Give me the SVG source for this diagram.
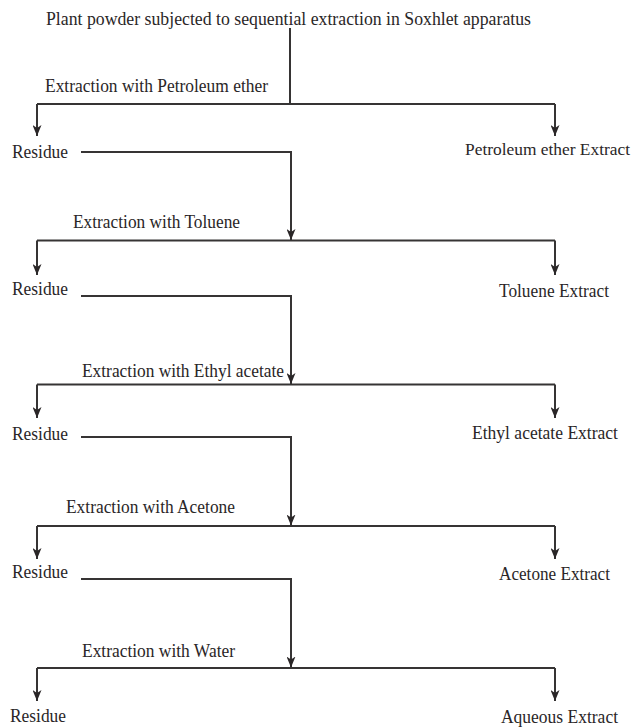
<svg xmlns="http://www.w3.org/2000/svg" width="635" height="727" viewBox="0 0 635 727">
  <style>
    .t { font-family: "Liberation Serif", "Times New Roman", serif; font-size: 18px; fill: #2a2627; }
    .c { fill: none; stroke: #363434; stroke-width: 2; }
  </style>
  <defs>
    <marker id="ah" viewBox="0 0 11 9" refX="11" refY="4.5" markerWidth="11" markerHeight="9" markerUnits="userSpaceOnUse" orient="auto">
      <path d="M0,0 L11,4.5 L0,9 L3,4.5 z" fill="#2a2627"/>
    </marker>
  </defs>
  <rect width="635" height="727" fill="#ffffff"/>

  <g id="connectors">
    <!-- stage 1 -->
    <path class="c" d="M290,28 V104"/>
    <path class="c" d="M37,104 H555"/>
    <path class="c" d="M37,104 V136" marker-end="url(#ah)"/>
    <path class="c" d="M555,104 V136" marker-end="url(#ah)"/>
    <!-- stage 2 -->
    <path class="c" d="M81,152 H291 V240" marker-end="url(#ah)"/>
    <path class="c" d="M37,240.5 H555"/>
    <path class="c" d="M37,240.5 V275" marker-end="url(#ah)"/>
    <path class="c" d="M555,240.5 V275" marker-end="url(#ah)"/>
    <!-- stage 3 -->
    <path class="c" d="M81,296 H291 V384" marker-end="url(#ah)"/>
    <path class="c" d="M37,384.5 H555"/>
    <path class="c" d="M37,384.5 V418" marker-end="url(#ah)"/>
    <path class="c" d="M555,384.5 V418" marker-end="url(#ah)"/>
    <!-- stage 4 -->
    <path class="c" d="M81,437 H291 V525.5" marker-end="url(#ah)"/>
    <path class="c" d="M37,526 H555"/>
    <path class="c" d="M37,526 V559" marker-end="url(#ah)"/>
    <path class="c" d="M555,526 V559" marker-end="url(#ah)"/>
    <!-- stage 5 -->
    <path class="c" d="M81,579 H291 V667.5" marker-end="url(#ah)"/>
    <path class="c" d="M37,668 H555"/>
    <path class="c" d="M37,668 V701" marker-end="url(#ah)"/>
    <path class="c" d="M555,668 V701" marker-end="url(#ah)"/>
  </g>

  <g id="start"><text class="t" x="46" y="25" textLength="485" lengthAdjust="spacingAndGlyphs">Plant powder subjected to sequential extraction in Soxhlet apparatus</text></g>

  <g id="step1-label"><text class="t" x="45" y="92" textLength="223" lengthAdjust="spacingAndGlyphs">Extraction with Petroleum ether</text></g>
  <g id="residue1"><text class="t" x="12" y="157.5" textLength="56" lengthAdjust="spacingAndGlyphs">Residue</text></g>
  <g id="extract1"><text class="t" x="465" y="155" style="font-size:17px" textLength="165" lengthAdjust="spacingAndGlyphs">Petroleum ether Extract</text></g>

  <g id="step2-label"><text class="t" x="73" y="228" textLength="167" lengthAdjust="spacingAndGlyphs">Extraction with Toluene</text></g>
  <g id="residue2"><text class="t" x="12" y="295" textLength="56" lengthAdjust="spacingAndGlyphs">Residue</text></g>
  <g id="extract2"><text class="t" x="499" y="296.5" textLength="110" lengthAdjust="spacingAndGlyphs">Toluene Extract</text></g>

  <g id="step3-label"><text class="t" x="82" y="377" textLength="202" lengthAdjust="spacingAndGlyphs">Extraction with Ethyl acetate</text></g>
  <g id="residue3"><text class="t" x="12" y="440" textLength="56" lengthAdjust="spacingAndGlyphs">Residue</text></g>
  <g id="extract3"><text class="t" x="472" y="439" textLength="146" lengthAdjust="spacingAndGlyphs">Ethyl acetate Extract</text></g>

  <g id="step4-label"><text class="t" x="66" y="513" textLength="169" lengthAdjust="spacingAndGlyphs">Extraction with Acetone</text></g>
  <g id="residue4"><text class="t" x="12" y="578" textLength="56" lengthAdjust="spacingAndGlyphs">Residue</text></g>
  <g id="extract4"><text class="t" x="499" y="580" textLength="111" lengthAdjust="spacingAndGlyphs">Acetone Extract</text></g>

  <g id="step5-label"><text class="t" x="82" y="657" textLength="153" lengthAdjust="spacingAndGlyphs">Extraction with Water</text></g>
  <g id="residue5"><text class="t" x="10" y="722" textLength="56" lengthAdjust="spacingAndGlyphs">Residue</text></g>
  <g id="extract5"><text class="t" x="501" y="723" textLength="117" lengthAdjust="spacingAndGlyphs">Aqueous Extract</text></g>
</svg>
